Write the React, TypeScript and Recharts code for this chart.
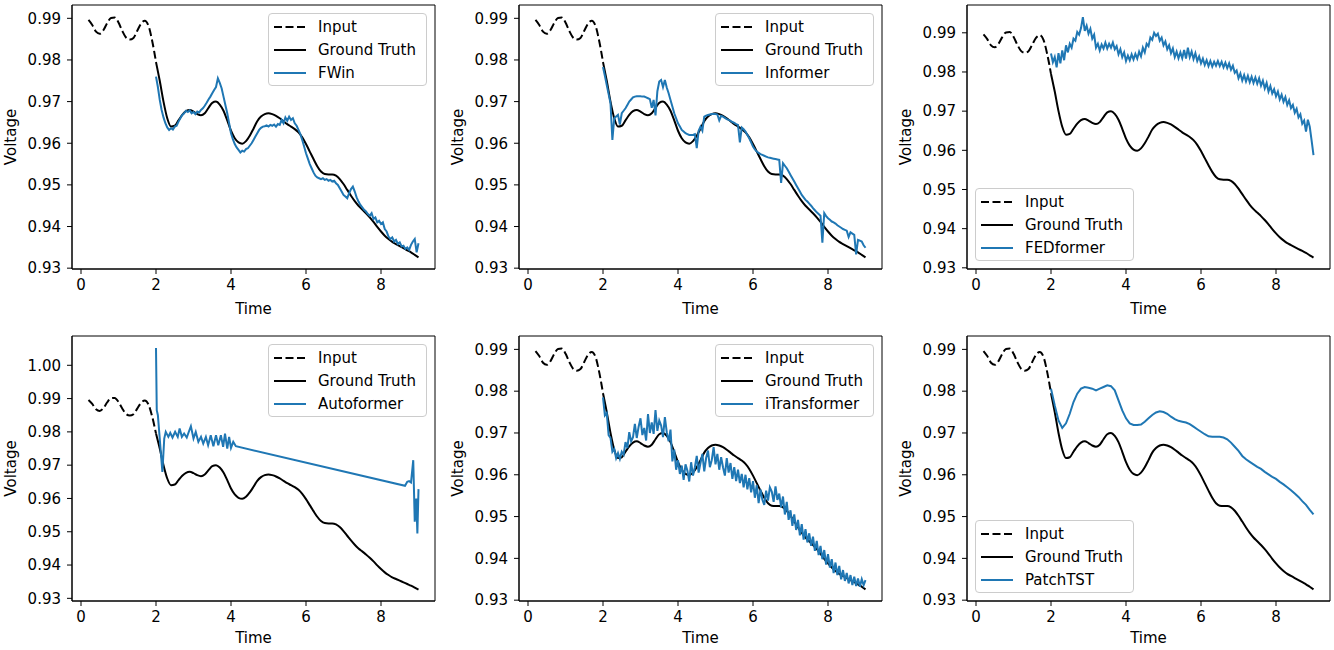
import { Legend, Line, LineChart, ReferenceArea, XAxis, YAxis } from 'recharts';

const BLUE = '#1f77b4';
const FONT = '"DejaVu Sans", sans-serif';

// axes
const xTicks = [0, 2, 4, 6, 8];
const xDomain = [-0.24, 9.44];
const yTicksLow = [0.93, 0.94, 0.95, 0.96, 0.97, 0.98, 0.99];
const yTicksHigh = [0.93, 0.94, 0.95, 0.96, 0.97, 0.98, 0.99, 1.0];

// input window, t = 0.2 .. 2.0 every 0.1
const inputStart = 0.2;
const inputValues = [
  0.9896, 0.9884, 0.9868, 0.9863, 0.9872, 0.9889, 0.9901, 0.9902, 0.989, 0.987,
  0.9854, 0.9849, 0.9853, 0.987, 0.9887, 0.9894, 0.9882, 0.9845, 0.9795,
];

// ground truth, t = 2.0 .. 9.0 every 0.1
const truthStart = 2.0;
const truthValues = [
  0.9795, 0.975, 0.97, 0.966, 0.964, 0.9642, 0.9655, 0.9668, 0.9677, 0.968,
  0.9676, 0.967, 0.9667, 0.9672, 0.9685, 0.9697, 0.97, 0.9693, 0.9678, 0.9655,
  0.963, 0.9612, 0.9602, 0.9599, 0.9605, 0.9618, 0.9635, 0.9653, 0.9664, 0.967,
  0.9672, 0.967, 0.9666, 0.966, 0.9653, 0.9646, 0.964, 0.9634, 0.9626, 0.9614,
  0.9598, 0.958, 0.9562, 0.9545, 0.9532, 0.9526, 0.9525, 0.9525, 0.9522, 0.9514,
  0.9502, 0.9488, 0.9474, 0.9461, 0.945, 0.9441, 0.9432, 0.9422, 0.9411, 0.9399,
  0.9388, 0.9378, 0.937, 0.9363, 0.9358, 0.9353, 0.9348, 0.9343, 0.9338, 0.9332,
  0.9326,
];

// model predictions, t = 2.0 .. 9.0 every 0.05
const predStart = 2.0;
const fwinValues = [
  0.976, 0.9735, 0.9704, 0.968, 0.9662, 0.9648, 0.9638, 0.9632, 0.9636, 0.9633,
  0.964, 0.9642, 0.9652, 0.966, 0.9668, 0.9672, 0.9678, 0.9675, 0.9679, 0.9672,
  0.9675, 0.967, 0.9676, 0.9674, 0.968, 0.9684, 0.969, 0.9697, 0.9705, 0.9712,
  0.972, 0.9728, 0.9735, 0.9756, 0.9745, 0.9732, 0.9712, 0.9692, 0.9672, 0.9648,
  0.9624, 0.961, 0.9598, 0.959, 0.9584, 0.9578, 0.9582, 0.958, 0.9586, 0.9588,
  0.9594, 0.96, 0.9608, 0.9616, 0.9624, 0.9632, 0.9637, 0.964, 0.9641, 0.9643,
  0.964, 0.9644, 0.9642, 0.9645, 0.964, 0.9646, 0.9644, 0.9656, 0.9648, 0.9662,
  0.9654, 0.9664, 0.9656, 0.966, 0.9648, 0.9642, 0.9632, 0.9622, 0.9608, 0.9592,
  0.9576, 0.9563, 0.955, 0.954, 0.953, 0.9522, 0.9518, 0.9516, 0.9514, 0.9516,
  0.9512, 0.9514, 0.951, 0.9512, 0.9508, 0.951, 0.9504, 0.95, 0.9492, 0.9484,
  0.9476, 0.9472, 0.9468, 0.948, 0.949, 0.9496, 0.9484, 0.947, 0.946, 0.9452,
  0.9446, 0.944, 0.9436, 0.943, 0.9426, 0.9432, 0.9418, 0.9422, 0.941, 0.9414,
  0.9406, 0.941, 0.9394, 0.9388, 0.9376, 0.937, 0.9374, 0.9364, 0.9368, 0.9358,
  0.9362, 0.9352, 0.9354, 0.9346, 0.935, 0.9344, 0.9356, 0.9364, 0.937, 0.9338,
  0.936,
];
const informerValues = [
  0.9783, 0.9762, 0.974, 0.9718, 0.9696, 0.9608, 0.966, 0.9664, 0.9668, 0.9645,
  0.9672, 0.9678, 0.9684, 0.9692, 0.97, 0.9705, 0.971, 0.9712, 0.9713, 0.9713,
  0.9713, 0.9712, 0.9712, 0.971, 0.9708, 0.9706, 0.9685, 0.9704, 0.9667, 0.9725,
  0.9748, 0.9752, 0.9735, 0.9752, 0.9734, 0.972, 0.9704, 0.9688, 0.9672, 0.966,
  0.9648, 0.964, 0.9632, 0.9628, 0.9624, 0.9622, 0.962, 0.962, 0.962, 0.9622,
  0.9588, 0.963, 0.964, 0.963, 0.9664, 0.9666, 0.9668, 0.9669, 0.967, 0.967,
  0.967, 0.9669, 0.9655, 0.9666, 0.9664, 0.9661, 0.9658, 0.9656, 0.9654, 0.9651,
  0.9649, 0.9646, 0.9644, 0.9602, 0.9638, 0.9634, 0.9628, 0.962, 0.9612, 0.9602,
  0.9592, 0.9585, 0.958, 0.9577, 0.9574, 0.9572, 0.957, 0.9568, 0.9566, 0.9565,
  0.9564, 0.9563, 0.9562, 0.9561, 0.956, 0.9505, 0.9552, 0.9546, 0.954, 0.9532,
  0.9524, 0.9516, 0.9508, 0.95, 0.9492, 0.9484, 0.9476, 0.947, 0.9464, 0.946,
  0.9455, 0.945, 0.9444, 0.9439, 0.9434, 0.943, 0.9426, 0.9361, 0.9432, 0.9425,
  0.942, 0.9416, 0.9412, 0.941, 0.9407, 0.9403, 0.94, 0.9397, 0.9394, 0.9392,
  0.939, 0.9375, 0.9386, 0.9383, 0.938, 0.9333, 0.9368, 0.9366, 0.9364, 0.9355,
  0.9349,
];
const fedformerValues = [
  0.9847, 0.9825, 0.9838, 0.9812, 0.9848, 0.9822, 0.9855, 0.983, 0.9868, 0.985,
  0.9872, 0.9862, 0.9885, 0.988, 0.9902, 0.9895, 0.9912, 0.994, 0.9905, 0.9918,
  0.9898, 0.991, 0.9885, 0.9895, 0.9862, 0.9872, 0.9855, 0.987, 0.986, 0.9875,
  0.986, 0.9872, 0.9862, 0.9875, 0.9858, 0.9866, 0.9845, 0.9858, 0.9838, 0.985,
  0.9828, 0.9842, 0.983, 0.9845, 0.9832, 0.9846, 0.9834, 0.9852, 0.984, 0.9862,
  0.985, 0.9872, 0.9866, 0.9888, 0.9882, 0.99, 0.9892, 0.9898, 0.988, 0.9888,
  0.9868, 0.9878, 0.9858, 0.9868, 0.9848, 0.986, 0.9838, 0.9852, 0.9835, 0.985,
  0.9835, 0.9856, 0.9834, 0.9862, 0.9838, 0.9852, 0.9833, 0.9848, 0.9828, 0.984,
  0.9822, 0.9834, 0.9818, 0.983, 0.9815, 0.9828, 0.9814, 0.9826, 0.9816, 0.9828,
  0.9815, 0.9826, 0.9812, 0.9824, 0.981, 0.9822, 0.9806, 0.9816, 0.9798, 0.9804,
  0.9784, 0.9796, 0.9778, 0.9792, 0.9776, 0.979, 0.9774, 0.9788, 0.9772, 0.9786,
  0.977, 0.9784, 0.9765, 0.9778, 0.9758, 0.9772, 0.975, 0.9764, 0.9745, 0.9756,
  0.9738, 0.975, 0.973, 0.9742, 0.9724, 0.9736, 0.9716, 0.9728, 0.9708, 0.9716,
  0.9696, 0.9706, 0.9684, 0.9692, 0.9668, 0.9676, 0.9648, 0.9678, 0.966, 0.9625,
  0.9588,
];
const itransformerValues = [
  0.9785, 0.9742, 0.9748, 0.9695, 0.9688, 0.9655, 0.9662, 0.964, 0.9652, 0.9638,
  0.9655, 0.9648, 0.9678, 0.9664, 0.9702, 0.968, 0.969, 0.9722, 0.9688, 0.9715,
  0.9735, 0.9695, 0.9712, 0.9682, 0.9745, 0.97, 0.9725, 0.9698, 0.9755, 0.9705,
  0.973, 0.9718, 0.969, 0.9738, 0.9702, 0.968, 0.9708, 0.9632, 0.966, 0.9612,
  0.9635, 0.9602, 0.9622, 0.9588, 0.9625, 0.961, 0.9584, 0.963, 0.9598, 0.9618,
  0.9645, 0.9605, 0.9628, 0.965, 0.9608, 0.964, 0.9658, 0.9618, 0.9635, 0.9666,
  0.9625, 0.965, 0.9612, 0.9642, 0.9618, 0.9598, 0.964, 0.9605, 0.9628, 0.959,
  0.9618, 0.9585, 0.9612, 0.958, 0.9602, 0.957, 0.96, 0.9565, 0.9592, 0.9558,
  0.9585, 0.9545, 0.9575, 0.9532, 0.9565, 0.954, 0.9528, 0.9562, 0.9538, 0.957,
  0.956, 0.9535, 0.9572, 0.954, 0.9555, 0.9522, 0.9548, 0.9505, 0.9535, 0.9492,
  0.9515, 0.9478, 0.9505, 0.9468, 0.9492, 0.9455, 0.9482, 0.9445, 0.947, 0.9438,
  0.946, 0.943, 0.9452, 0.9418, 0.9442, 0.9408, 0.943, 0.9398, 0.942, 0.9385,
  0.941, 0.9378, 0.9398, 0.9365, 0.939, 0.936, 0.9382, 0.935, 0.9372, 0.9346,
  0.9365, 0.934, 0.936, 0.9336, 0.9356, 0.9334, 0.9352, 0.9332, 0.935, 0.9336,
  0.9348,
];

// PatchTST, t = 2.0 .. 9.0 every 0.1
const patchtstValues = [
  0.9806, 0.9766, 0.973, 0.9712, 0.9723, 0.9746, 0.9774, 0.9794, 0.9806, 0.981,
  0.9808, 0.9806, 0.9802, 0.9806, 0.981, 0.9814, 0.9812, 0.9802, 0.9778, 0.9754,
  0.9735, 0.9723, 0.9719, 0.9719, 0.972, 0.9727, 0.9735, 0.9743, 0.9749, 0.9752,
  0.975, 0.9746, 0.9739, 0.9733, 0.9729, 0.9727, 0.9725, 0.9721, 0.9715, 0.9709,
  0.9703, 0.9697, 0.9692, 0.9691, 0.9691, 0.9691, 0.9689, 0.9685, 0.9677, 0.9667,
  0.9657, 0.9645, 0.9637, 0.9631, 0.9625, 0.9619, 0.9614, 0.9607, 0.9601, 0.9595,
  0.959, 0.9583, 0.9577, 0.957, 0.9563, 0.9555, 0.9547, 0.9537, 0.9528, 0.9516,
  0.9505,
];

// Autoformer is sampled unevenly (long straight stretch in the middle)
const autoformerTimes = [
  2.0, 2.02, 2.05, 2.17, 2.22, 2.26, 2.33, 2.38, 2.44, 2.51, 2.58, 2.63, 2.69, 2.75, 2.82,
  2.89, 2.93, 3.0, 3.06, 3.13, 3.2, 3.26, 3.33, 3.39, 3.46, 3.53, 3.6, 3.66, 3.73, 3.79,
  3.84, 3.9, 3.95, 4.0, 4.06, 4.13, 8.64, 8.7, 8.75, 8.8, 8.86, 8.9, 8.94, 8.97, 9.0,
];
const autoformerValues = [
  1.0052, 0.9865, 0.985, 0.968, 0.978, 0.98, 0.9785, 0.9797, 0.9783, 0.98, 0.9785, 0.981,
  0.9785, 0.9795, 0.9783, 0.9805, 0.9817, 0.978, 0.98, 0.977, 0.9785, 0.9765, 0.9785, 0.976,
  0.979, 0.9757, 0.979, 0.976, 0.979, 0.9755, 0.9795, 0.975, 0.9785, 0.9752, 0.977, 0.9757,
  0.9638, 0.965, 0.9652, 0.9648, 0.9715, 0.953, 0.96, 0.9495, 0.9628,
];

const legendOrder = ['Input', 'Ground Truth'];

type Pt = { t: number; v: number };
const even = (start: number, step: number, values: number[]): Pt[] =>
  values.map((v, i) => ({ t: +(start + i * step).toFixed(3), v }));

const inputPts = even(inputStart, 0.1, inputValues);
const truthPts = even(truthStart, 0.1, truthValues);
const autoformerPts = autoformerTimes.map((t, i) => ({ t, v: autoformerValues[i] }));

const YW = 75;
const MT = 10;
const MR = 10;
const MB = 8;
const PW = 363;
const colX = [72, 519, 967];
const rowY = [5, 336];
const rowH = [264, 265];
const rowAxisH = [45, 42];

const panels = [
  { name: 'FWin', pts: even(predStart, 0.05, fwinValues), col: 0, row: 0, y: [0.9298, 0.9932], ticks: yTicksLow, legend: 'upper' },
  { name: 'Informer', pts: even(predStart, 0.05, informerValues), col: 1, row: 0, y: [0.9298, 0.9932], ticks: yTicksLow, legend: 'upper' },
  { name: 'FEDformer', pts: even(predStart, 0.05, fedformerValues), col: 2, row: 0, y: [0.9297, 0.9971], ticks: yTicksLow, legend: 'lower' },
  { name: 'Autoformer', pts: autoformerPts, col: 0, row: 1, y: [0.9292, 1.0088], ticks: yTicksHigh, legend: 'upper' },
  { name: 'iTransformer', pts: even(predStart, 0.05, itransformerValues), col: 1, row: 1, y: [0.9298, 0.9932], ticks: yTicksLow, legend: 'upper' },
  { name: 'PatchTST', pts: even(predStart, 0.1, patchtstValues), col: 2, row: 1, y: [0.9298, 0.9932], ticks: yTicksLow, legend: 'lower' },
];

const rank = (name: string) => {
  const i = legendOrder.indexOf(name);
  return i < 0 ? legendOrder.length : i;
};

function LegendBox(props: any) {
  const items = [...(props.payload || [])].sort((a: any, b: any) => rank(a.value) - rank(b.value));
  return (
    <div
      style={{
        width: 159,
        height: 73,
        boxSizing: 'border-box',
        border: '1px solid #cccccc',
        borderRadius: 4,
        background: 'rgba(255,255,255,0.8)',
        paddingTop: 1,
        fontFamily: FONT,
        fontSize: 15,
        color: '#000',
      }}
    >
      {items.map((it: any) => (
        <div key={it.value} style={{ display: 'flex', alignItems: 'center', height: 23 }}>
          <svg width={32} height={10} style={{ marginLeft: 5, marginRight: 12 }}>
            <line
              x1={0}
              x2={32}
              y1={5}
              y2={5}
              stroke={it.color}
              strokeWidth={2}
              strokeDasharray={it.value === 'Input' ? '8 3.5' : undefined}
            />
          </svg>
          <span>{it.value}</span>
        </div>
      ))}
    </div>
  );
}

function Panel({ p }: { p: (typeof panels)[number] }) {
  const plotH = rowH[p.row];
  const axisH = rowAxisH[p.row];
  const W = YW + PW + MR;
  const H = MT + plotH + axisH + MB;
  const legendLeft = p.legend === 'upper' ? YW + PW - 8 - 159 : YW + 8;
  const legendTop = p.legend === 'upper' ? MT + 8 : MT + plotH - 8 - 73;
  const tick = { fill: '#000', fontSize: 15, fontFamily: FONT };
  return (
    <div style={{ position: 'absolute', left: colX[p.col] - YW, top: rowY[p.row] - MT, fontFamily: FONT }}>
      <LineChart width={W} height={H} margin={{ top: MT, right: MR, bottom: MB, left: 0 }}>
        <XAxis
          dataKey="t"
          type="number"
          domain={xDomain}
          ticks={xTicks}
          allowDataOverflow
          height={axisH}
          stroke="#000"
          tickSize={5}
          tickMargin={5}
          tick={tick}
          label={{ value: 'Time', position: 'insideBottom', offset: 0, fill: '#000', fontSize: 15 }}
        />
        <YAxis
          type="number"
          domain={p.y}
          ticks={p.ticks}
          allowDataOverflow
          width={YW}
          stroke="#000"
          tickSize={5}
          tickMargin={6}
          tick={tick}
          tickFormatter={(v: number) => v.toFixed(2)}
          label={{ value: 'Voltage', angle: -90, position: 'insideLeft', offset: YW - 61, fill: '#000', fontSize: 15, style: { textAnchor: 'middle' } }}
        />
        {/* full box frame like matplotlib spines */}
        <ReferenceArea
          x1={xDomain[0]}
          x2={xDomain[1]}
          y1={p.y[0]}
          y2={p.y[1]}
          fill="none"
          fillOpacity={0}
          stroke="#000"
          strokeWidth={1}
          ifOverflow="visible"
        />
        <Legend
          layout="vertical"
          align="center"
          verticalAlign="middle"
          content={<LegendBox />}
          wrapperStyle={{ left: legendLeft, top: legendTop, width: 159, height: 73 }}
        />
        <Line data={inputPts} dataKey="v" name="Input" type="monotone" stroke="#000" strokeWidth={2} strokeDasharray="8 3.5" dot={false} isAnimationActive={false} />
        <Line data={truthPts} dataKey="v" name="Ground Truth" type="monotone" stroke="#000" strokeWidth={2} dot={false} isAnimationActive={false} />
        <Line data={p.pts} dataKey="v" name={p.name} type="linear" stroke={BLUE} strokeWidth={2} dot={false} isAnimationActive={false} />
      </LineChart>
    </div>
  );
}

export default function App() {
  return (
    <div style={{ position: 'absolute', left: 0, top: 0, width: 1334, height: 650, background: '#fff', overflow: 'hidden' }}>
      {panels.map((p) => (
        <Panel key={p.name} p={p} />
      ))}
    </div>
  );
}
